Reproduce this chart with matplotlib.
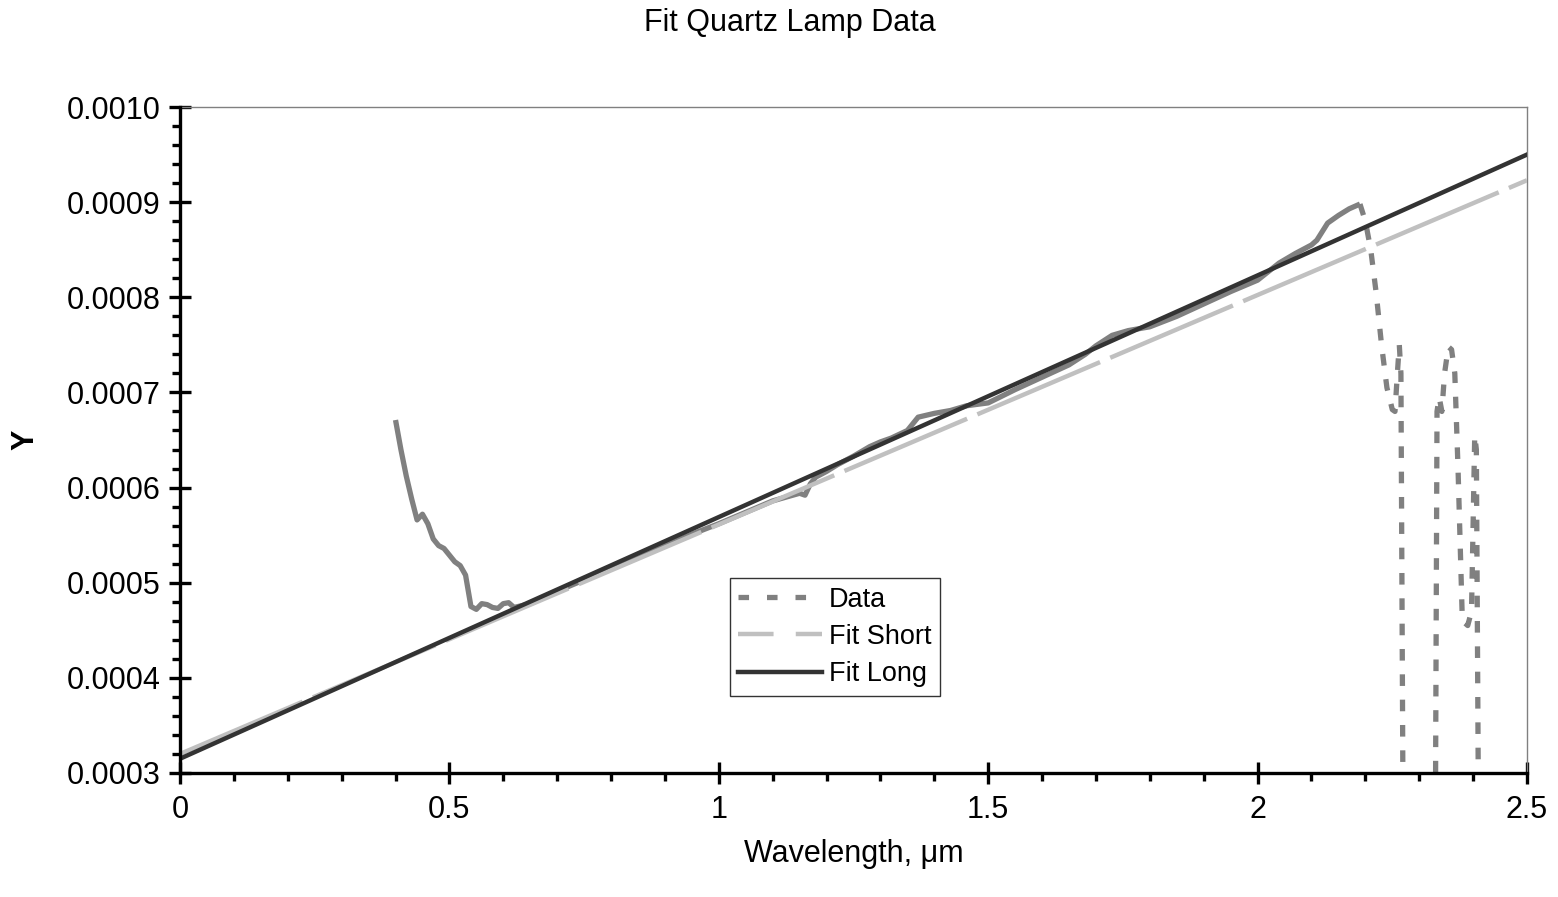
import numpy as np
import matplotlib
matplotlib.use("Agg")
import matplotlib.pyplot as plt
from matplotlib.lines import Line2D
from matplotlib.ticker import MultipleLocator, FormatStrFormatter

plt.rcParams['font.family'] = ['Liberation Sans', 'DejaVu Sans']

# ---- data ----
wavelength = [0.40, 0.41, 0.42, 0.43, 0.44, 0.45, 0.46, 0.47, 0.48, 0.49,
              0.50, 0.51, 0.52, 0.53, 0.54, 0.55, 0.56, 0.57, 0.58, 0.59,
              0.60, 0.61, 0.62, 0.65, 0.70, 0.75, 0.80, 0.85, 0.90, 0.95,
              1.00, 1.05, 1.10, 1.15, 1.16, 1.17, 1.18, 1.20, 1.22, 1.25,
              1.28, 1.30, 1.32, 1.35, 1.37, 1.40, 1.43, 1.46, 1.50, 1.55,
              1.60, 1.65, 1.68, 1.70, 1.73, 1.76, 1.80, 1.85, 1.90, 1.95,
              2.00, 2.04, 2.07, 2.10, 2.11, 2.13, 2.15, 2.17, 2.19,
              2.20, 2.21, 2.22, 2.23, 2.24, 2.25, 2.255, 2.26, 2.263, 2.266,
              2.27, 2.30, 2.33, 2.333, 2.337, 2.342, 2.347, 2.354, 2.36, 2.366,
              2.372, 2.38, 2.39, 2.397, 2.403, 2.406, 2.41]
data_y = [0.000671, 0.000640, 0.000612, 0.000588, 0.000566, 0.000572, 0.000562, 0.000546, 0.000539, 0.000536,
          0.000529, 0.000522, 0.000518, 0.000508, 0.000475, 0.000472, 0.000478, 0.000477, 0.000474, 0.000473,
          0.000478, 0.000479, 0.000474, 0.000478, 0.000491, 0.000503, 0.000515, 0.000527, 0.000539, 0.000551,
          0.000562, 0.000574, 0.000586, 0.000594, 0.000592, 0.000604, 0.000611, 0.000617, 0.000624, 0.000633,
          0.000643, 0.000648, 0.000652, 0.000660, 0.000674, 0.000678, 0.000681, 0.000686, 0.000689, 0.000703,
          0.000716, 0.000729, 0.000740, 0.000749, 0.000760, 0.000765, 0.000769, 0.000780, 0.000793, 0.000806,
          0.000818, 0.000836, 0.000846, 0.000855, 0.000860, 0.000878, 0.000886, 0.000893, 0.000898,
          0.000880, 0.000850, 0.000805, 0.000750, 0.000705, 0.000682, 0.000680, 0.000725, 0.000750, 0.000720,
          0.000250, 0.000150, 0.000250, 0.000680, 0.000695, 0.000680, 0.000720, 0.000748, 0.000745, 0.000720,
          0.000620, 0.000460, 0.000455, 0.000470, 0.000655, 0.000640, 0.000250]

fit_x = [0.0, 2.5]
fit_short = [0.000320, 0.000923]
fit_long = [0.000315, 0.000950]

x_ticks = [0, 0.5, 1, 1.5, 2, 2.5]
x_tick_labels = ['0', '0.5', '1', '1.5', '2', '2.5']

# ---- figure ----
fig = plt.figure(figsize=(15.58, 8.97), dpi=100)
ax = fig.add_axes([180/1558, 1-773/897, (1527-180)/1558, (773-107)/897])

wl = np.array(wavelength)
dy = np.array(data_y)
dense = wl <= 2.19
sparse = wl >= 2.19

data_color = '#808080'
ax.plot(wl[dense], dy[dense], color=data_color, lw=3.8, solid_capstyle='butt',
        solid_joinstyle='round', zorder=2)
ax.plot(wl[sparse], dy[sparse], color=data_color, lw=3.8, dash_capstyle='butt',
        linestyle=(0, (2.2, 2.6)), zorder=2)
ax.plot(fit_x, fit_short, color='#c0c0c0', lw=3.2, linestyle=(0, (30, 2.5)),
        dash_capstyle='butt', zorder=3)
ax.plot(fit_x, fit_long, color='#333333', lw=3.2, zorder=4)

ax.set_xlim(0, 2.5)
ax.set_ylim(0.0003, 0.0010)

ax.set_xticks(x_ticks)
ax.set_xticklabels(x_tick_labels)
ax.xaxis.set_minor_locator(MultipleLocator(0.1))
ax.yaxis.set_major_locator(MultipleLocator(0.0001))
ax.yaxis.set_major_formatter(FormatStrFormatter('%.4f'))
ax.yaxis.set_minor_locator(MultipleLocator(0.00002))

ax.tick_params(axis='both', which='major', direction='inout', length=16, width=2.4,
               labelsize=22, color='black')
ax.tick_params(axis='both', which='minor', direction='out', length=5.5, width=2.4, color='black')
ax.tick_params(axis='y', which='major', pad=6)
ax.tick_params(axis='x', which='major', pad=8)
ax.tick_params(top=False, right=False, which='both')

for s in ['left', 'bottom']:
    ax.spines[s].set_color('black')
    ax.spines[s].set_linewidth(2.4)
    ax.spines[s].set_zorder(5)
for s in ['top', 'right']:
    ax.spines[s].set_color('#808080')
    ax.spines[s].set_linewidth(1.0)

fig.text(790/1558, 1-23/897, 'Fit Quartz Lamp Data', ha='center', va='center', fontsize=22)
ax.set_xlabel('Wavelength, \u03bcm', fontsize=22, labelpad=10)
fig.text(25/1558, 1-440/897, 'Y', ha='center', va='center', fontsize=22,
         fontweight='bold', rotation=90)

handles = [
    Line2D([], [], color=data_color, lw=3.8, linestyle=(0, (2.0, 3.4)), dash_capstyle='butt'),
    Line2D([], [], color='#c0c0c0', lw=3.2, linestyle=(0, (8, 5)), dash_capstyle='butt'),
    Line2D([], [], color='#333333', lw=3.2),
]
leg = ax.legend(handles, ['Data', 'Fit Short', 'Fit Long'],
                loc='upper left', bbox_to_anchor=(0.408, 0.293), borderaxespad=0,
                fontsize=19.5, frameon=True, fancybox=False, edgecolor='black',
                handlelength=3.1, handletextpad=0.25, labelspacing=0.42, borderpad=0.32)
leg.get_frame().set_linewidth(1.0)

fig.savefig('out.png', dpi=100)
